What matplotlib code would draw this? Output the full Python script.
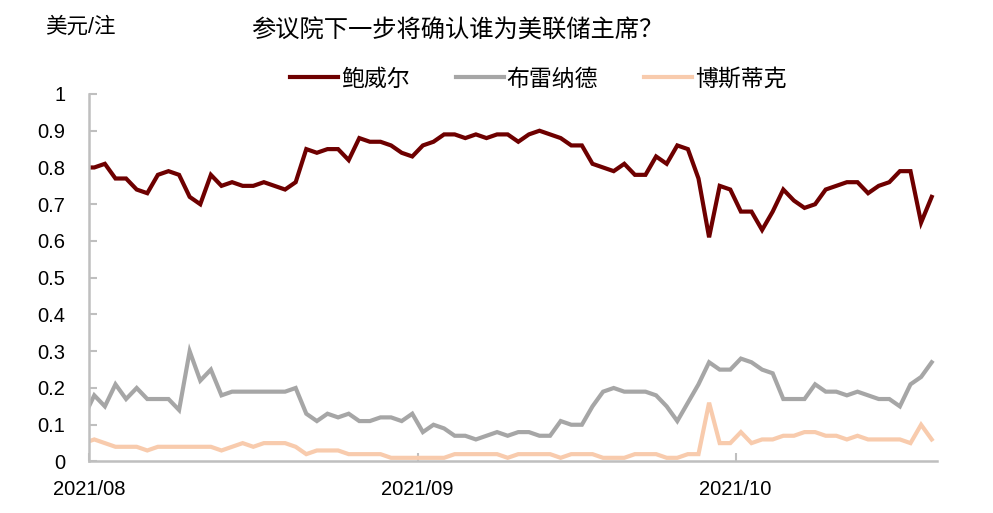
import numpy as np
import pandas as pd
import matplotlib
matplotlib.use("Agg")
import matplotlib.pyplot as plt
import matplotlib.dates as mdates
from matplotlib.ticker import FuncFormatter, MultipleLocator

# daily odds, first value (Jul 31) falls just left of the axis and is clipped
start_day = "2021-07-31 12:00"
n_days = 81

powell = [0.80, 0.80, 0.81, 0.77, 0.77, 0.74, 0.73, 0.78, 0.79, 0.78,
          0.72, 0.70, 0.78, 0.75, 0.76, 0.75, 0.75, 0.76, 0.75, 0.74,
          0.76, 0.85, 0.84, 0.85, 0.85, 0.82, 0.88, 0.87, 0.87, 0.86,
          0.84, 0.83, 0.86, 0.87, 0.89, 0.89, 0.88, 0.89, 0.88, 0.89,
          0.89, 0.87, 0.89, 0.90, 0.89, 0.88, 0.86, 0.86, 0.81, 0.80,
          0.79, 0.81, 0.78, 0.78, 0.83, 0.81, 0.86, 0.85, 0.77, 0.61,
          0.75, 0.74, 0.68, 0.68, 0.63, 0.68, 0.74, 0.71, 0.69, 0.70,
          0.74, 0.75, 0.76, 0.76, 0.73, 0.75, 0.76, 0.79, 0.79, 0.65,
          0.72]

brainard = [0.12, 0.18, 0.15, 0.21, 0.17, 0.20, 0.17, 0.17, 0.17, 0.14,
            0.30, 0.22, 0.25, 0.18, 0.19, 0.19, 0.19, 0.19, 0.19, 0.19,
            0.20, 0.13, 0.11, 0.13, 0.12, 0.13, 0.11, 0.11, 0.12, 0.12,
            0.11, 0.13, 0.08, 0.10, 0.09, 0.07, 0.07, 0.06, 0.07, 0.08,
            0.07, 0.08, 0.08, 0.07, 0.07, 0.11, 0.10, 0.10, 0.15, 0.19,
            0.20, 0.19, 0.19, 0.19, 0.18, 0.15, 0.11, 0.16, 0.21, 0.27,
            0.25, 0.25, 0.28, 0.27, 0.25, 0.24, 0.17, 0.17, 0.17, 0.21,
            0.19, 0.19, 0.18, 0.19, 0.18, 0.17, 0.17, 0.15, 0.21, 0.23,
            0.27]

bostic = [0.05, 0.06, 0.05, 0.04, 0.04, 0.04, 0.03, 0.04, 0.04, 0.04,
          0.04, 0.04, 0.04, 0.03, 0.04, 0.05, 0.04, 0.05, 0.05, 0.05,
          0.04, 0.02, 0.03, 0.03, 0.03, 0.02, 0.02, 0.02, 0.02, 0.01,
          0.01, 0.01, 0.01, 0.01, 0.01, 0.02, 0.02, 0.02, 0.02, 0.02,
          0.01, 0.02, 0.02, 0.02, 0.02, 0.01, 0.02, 0.02, 0.02, 0.01,
          0.01, 0.01, 0.02, 0.02, 0.02, 0.01, 0.01, 0.02, 0.02, 0.16,
          0.05, 0.05, 0.08, 0.05, 0.06, 0.06, 0.07, 0.07, 0.08, 0.08,
          0.07, 0.07, 0.06, 0.07, 0.06, 0.06, 0.06, 0.06, 0.05, 0.10,
          0.06]

series_names = ["鲍威尔", "布雷纳德", "博斯蒂克"]
colors = ["#6E0000", "#A6A6A6", "#F8CBAD"]

plt.rcParams["font.family"] = ["Liberation Sans", "Noto Sans CJK SC", "DejaVu Sans"]

dates = pd.date_range(start_day, periods=n_days, freq="D")

fig = plt.figure(figsize=(9.93, 5.13), dpi=100)
ax = fig.add_axes([0.0896, 0.1004, 0.854, 0.7164])

for vals, name, c in zip([powell, brainard, bostic], series_names, colors):
    ax.plot(dates, vals, color=c, lw=3.0, label=name, solid_joinstyle="miter")

ax.set_xlim(pd.Timestamp("2021-08-01"), pd.Timestamp("2021-10-20"))
ax.set_ylim(0, 1)
ax.yaxis.set_major_locator(MultipleLocator(0.1))
ax.yaxis.set_major_formatter(FuncFormatter(lambda v, p: f"{v:.1f}".rstrip("0").rstrip(".") if v else "0"))
ax.xaxis.set_major_locator(mdates.MonthLocator())
ax.xaxis.set_major_formatter(mdates.DateFormatter("%Y/%m"))

for s in ["top", "right"]:
    ax.spines[s].set_visible(False)
for s in ["left", "bottom"]:
    ax.spines[s].set_color("#BFBFBF")
    ax.spines[s].set_linewidth(1.8)
ax.tick_params(axis="both", direction="in", length=6, width=1.5, color="#BFBFBF",
               labelsize=14.5, labelcolor="black")
ax.tick_params(axis="y", pad=17)
ax.tick_params(axis="x", pad=13)

fig.text(0.045, 0.947, "美元/注", fontsize=15.5, ha="left", va="center")
fig.text(0.46, 0.94, "参议院下一步将确认谁为美联储主席？", fontsize=17.5, ha="center", va="center",
         family=["Noto Sans CJK SC", "DejaVu Sans"])

fig.legend(loc="center", bbox_to_anchor=(0.542, 0.846), ncol=3, frameon=False,
           fontsize=16.5, handlelength=2.1, handletextpad=0.12, columnspacing=2.0)

fig.savefig("out.png", dpi=100)
